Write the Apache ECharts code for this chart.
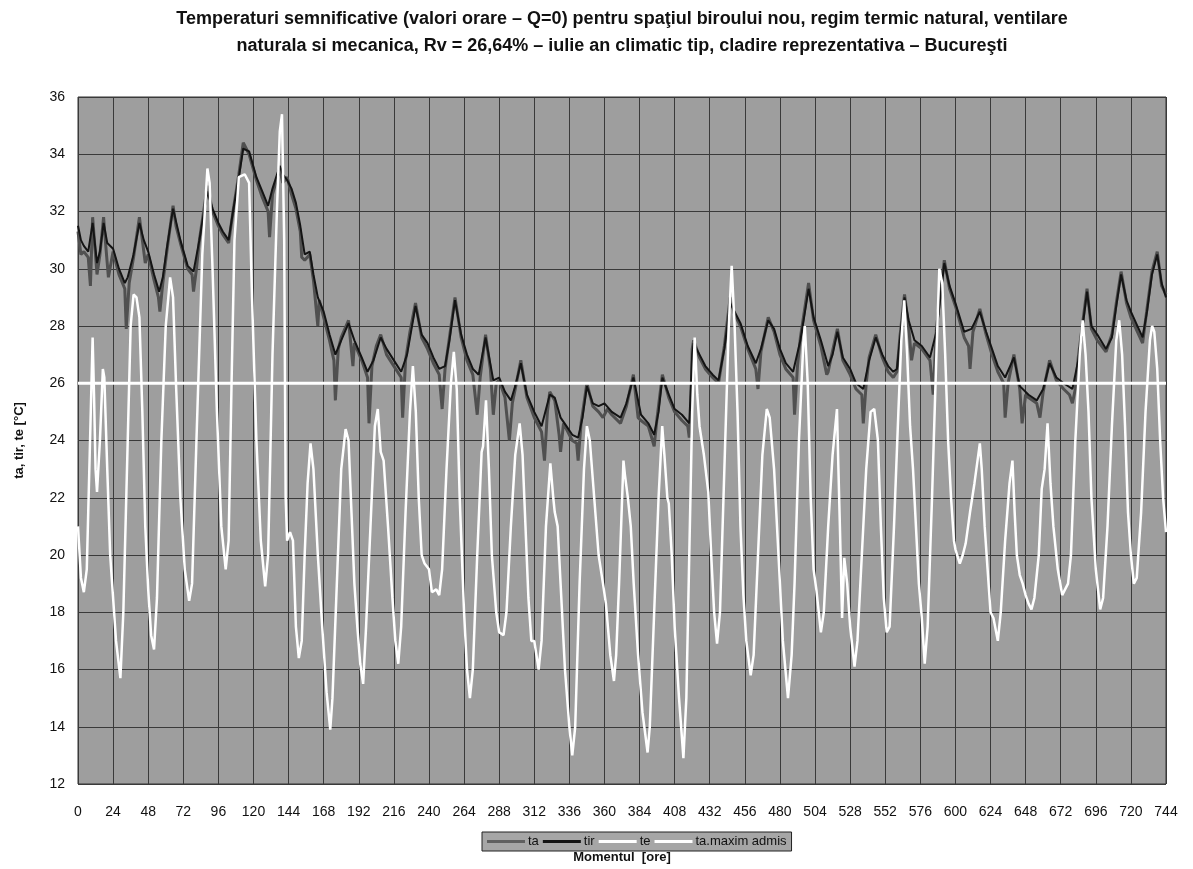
<!DOCTYPE html>
<html><head><meta charset="utf-8">
<script src="https://cdn.jsdelivr.net/npm/echarts@6/dist/echarts.min.js"></script>
<style>html,body{margin:0;padding:0;background:#fff}#c{width:1193px;height:869px}</style>
</head><body><div id="c"></div>
<script>
// ---- data (hour, °C) ----
const xTicks = {min: 0, max: 744, step: 24};
const yTicks = {min: 12, max: 36, step: 2};
const seriesNames = ['ta', 'tir', 'te', 'ta.maxim admis'];

const taData = [[0,31.3],[2,30.5],[4,30.6],[7,30.4],[8.5,29.4],[10,31.8],[13,29.8],[15,30.5],[17.5,31.8],[19,30.8],[20.8,29.7],[24,30.6],[28,29.8],[32,29.3],[33,27.9],[35,29.5],[38,30.4],[42,31.8],[44,31],[46,30.2],[48,30.5],[52,29.6],[55,29],[56,28.5],[58,29.5],[61,30.7],[65,32.2],[67,31.5],[70,30.9],[75,30],[78,29.8],[79,29.2],[81,30],[83,31],[88.5,32.9],[92,32],[96,31.5],[99,31.2],[103,30.9],[106,32],[110,33.3],[113,34.4],[117,34],[122,33.1],[126,32.5],[130,32],[131,31.1],[133,32.6],[138,33.5],[140,33],[143,33.2],[146,32.6],[149,32.1],[152,31.3],[153,30.4],[155,30.3],[158.5,30.5],[161,29.6],[164,28],[165,28.9],[168,28.3],[172,27.5],[175,26.8],[176,25.4],[178,27.2],[180,27.6],[185,28.2],[188,26.6],[189,27.4],[194,26.8],[198,26.2],[199,24.6],[201,26.6],[204,27.3],[207,27.7],[211,27],[216,26.6],[221,26.2],[222,24.8],[224,26.8],[227,27.8],[230.8,28.8],[235,27.6],[239,27.2],[243,26.7],[247,26.3],[249,25.1],[251,26.5],[254,27.6],[257.8,29],[262,27.6],[266,26.8],[270,26.3],[273,24.9],[275,26.2],[278.7,27.7],[282,26.5],[284,24.9],[286,26],[288,26.1],[292,25.5],[295,24],[297,25.3],[299,25.8],[302.8,26.8],[307,25.5],[312,24.8],[317,24.3],[319,23.3],[321,25],[322.6,25.7],[326,25.4],[329,24.2],[330,23.6],[332,24.6],[334,24.4],[338,24],[341,23.9],[342,23.3],[344,24.6],[348,26],[352,25.2],[356,25],[359,24.8],[362,25.1],[365,24.9],[371,24.6],[375,25.2],[379.8,26.3],[383,24.8],[385,24.7],[390,24.5],[394,23.8],[396,24.8],[399.6,26.3],[404,25.5],[408,25],[413,24.7],[417,24.5],[418,24.1],[419,25],[420,27.2],[421,27.5],[425,26.9],[429,26.5],[434,26.2],[438,26],[442,27.3],[446,29],[449,28.4],[453,28],[458,27.2],[463.5,26.5],[465,25.8],[467,27.1],[472,28.3],[476,27.8],[480,27],[484,26.5],[489,26.2],[490,24.9],[492,26.6],[494,27.6],[499.6,29.5],[503,28.2],[508,27.3],[512,26.3],[513,26.4],[515,26.9],[519.3,27.9],[523,26.8],[528,26.3],[532,25.8],[536,25.6],[537,24.6],[539,26],[541,26.9],[545.5,27.7],[550,26.9],[554,26.4],[557.5,26.2],[560,26.4],[562,27.6],[565.2,29.1],[568,28],[570,26.8],[572,27.4],[577,27.2],[582.6,26.8],[584.8,25.6],[587,27.9],[592.4,30.3],[596,29.3],[600,28.7],[606,27.6],[609,27.3],[610,26.5],[612,27.8],[616.7,28.6],[621,27.7],[625,27],[629,26.4],[633,26],[634,24.8],[636,26],[640,27],[644,25.8],[645.6,24.6],[648,25.6],[650,25.5],[655.6,25.3],[657.8,24.8],[660,25.7],[664.4,26.8],[669,26.1],[674,25.8],[678,25.6],[680,25.3],[682,25.8],[684,26.9],[687,28.1],[690,29.3],[693,27.9],[697,27.5],[703,27.1],[707,27.7],[710,28.8],[713.3,29.9],[717,28.8],[720,28.3],[724.4,27.8],[728,27.4],[731,28.6],[734.4,29.9],[738,30.6],[741,29.4],[744,29.1]];

const tirData = [[0,31.5],[2,31],[4,30.8],[7,30.6],[10,31.6],[13,30.2],[15,30.6],[17.5,31.6],[20,30.9],[24,30.7],[28,30],[32,29.5],[34,29.7],[38,30.5],[42,31.6],[45,31],[48,30.6],[52,29.8],[55.5,29.2],[58,29.7],[61,30.8],[65,32.1],[70,31],[75,30.1],[79,29.9],[83,31],[88.5,32.7],[92,32.1],[96,31.6],[99,31.3],[103,31],[106,32],[110,33.2],[113,34.2],[117,34.1],[122,33.2],[126,32.7],[130,32.2],[133,32.8],[138,33.6],[140,33.3],[143,33.1],[146,32.8],[149,32.3],[152,31.5],[155,30.5],[158.5,30.6],[161,29.8],[164,29],[168,28.5],[172,27.7],[176,27],[180,27.5],[185,28.1],[189,27.5],[194,26.9],[198,26.4],[202,26.8],[207,27.6],[211,27.2],[216,26.8],[221,26.4],[225,27],[230.8,28.7],[235,27.7],[239,27.4],[243,26.9],[247,26.5],[251,26.6],[254,27.5],[257.8,28.9],[262,27.7],[266,27],[270,26.5],[274,26.3],[278.7,27.6],[284,26.1],[288,26.2],[292,25.7],[296,25.4],[299,25.9],[302.8,26.7],[307,25.6],[312,25],[317,24.5],[322.6,25.6],[326,25.5],[330,24.8],[334,24.5],[338,24.2],[342,24.1],[345,24.8],[348,25.9],[352,25.3],[356,25.2],[360,25.3],[365,25],[371,24.8],[375,25.3],[379.8,26.2],[385,24.9],[390,24.6],[394,24.2],[397,25],[399.6,26.2],[404,25.6],[408,25.1],[413,24.9],[418,24.6],[420,27],[421,27.4],[425,27],[429,26.6],[434,26.3],[438,26.1],[442,27.2],[446,28.8],[449,28.5],[453,28.1],[458,27.3],[463.5,26.7],[467,27.2],[472,28.2],[476,27.9],[480,27.2],[484,26.7],[489,26.4],[494,27.5],[499.6,29.3],[503,28.3],[508,27.5],[513,26.6],[516,27],[519.3,27.8],[523,26.9],[528,26.5],[532,26],[537,25.8],[541,26.8],[545.5,27.6],[550,27],[554,26.6],[557.5,26.4],[560,26.5],[562,27.5],[565.2,29],[568,28.2],[572,27.5],[577,27.3],[582.6,26.9],[587,27.8],[592.4,30.2],[596,29.4],[600,28.8],[606,27.8],[611,27.9],[616.7,28.5],[621,27.8],[625,27.2],[629,26.6],[634,26.2],[640,26.9],[644,25.9],[650,25.6],[655.6,25.4],[660,25.8],[664.4,26.7],[669,26.2],[674,26],[680,25.8],[684,26.8],[687,28],[690,29.2],[693,28],[697,27.7],[703,27.2],[707,27.6],[710,28.7],[713.3,29.8],[717,28.9],[720,28.5],[724.4,28],[728,27.6],[731,28.5],[734.4,29.8],[738,30.5],[741,29.5],[744,29]];

const teData = [[0,21],[2,19.2],[4,18.7],[6,19.5],[8,23.5],[10,27.6],[11,25.5],[12,23],[13,22.2],[15,24],[17,26.5],[18,26.2],[20,23],[22,20],[24,18.5],[26,17],[29,15.7],[31,18],[34,24],[36,28],[38,29.1],[40,29],[42,28.3],[44,25],[46,21],[48,18.8],[50,17.2],[52,16.7],[54,18.5],[57,24],[60,28],[63,29.7],[65,29],[67,26],[70,22],[73,19.5],[76,18.4],[78,19],[81,24],[85,30.5],[88.5,33.5],[90,33],[92,30],[95,25],[98,21],[101,19.5],[103,20.5],[105,26],[107,31],[110,33.2],[114,33.3],[117,33],[119,29],[122,24],[125,20.5],[128,18.9],[130,20],[133,27],[136,32],[138,34.8],[139.5,35.4],[141,31],[142,22],[143,20.5],[145,20.8],[147,20.5],[149,17.5],[151,16.4],[153,17],[155,20],[157,22.5],[159,23.9],[161,23],[164,20],[167,17.5],[170,15.2],[172.5,13.9],[174,15],[177,19],[180,23],[183,24.4],[185,24],[187,21.5],[189,19],[191,17.5],[193,16.2],[195,15.5],[197,17.5],[200,21],[203,24.5],[205,25.1],[207,23.6],[209,23.3],[212,21],[215,18.5],[217,17],[219,16.2],[221,17.5],[224,21.5],[227,25],[229,26.6],[231,25],[233,22],[235,20],[237,19.7],[240,19.5],[242,18.7],[245,18.8],[247,18.6],[249,19.5],[252,23],[255,26],[257,27.1],[259,25.8],[261,22],[264,18],[266,16],[268,15],[270,16],[273,20],[276,23.6],[277,23.8],[279,25.4],[281,23],[283,20],[286,18],[288,17.3],[291,17.2],[293,18],[296,21],[299,23.5],[302,24.6],[304,23.5],[306,21],[308,18.5],[310,17],[312,17],[315,16],[317,17],[320,21],[323,23.2],[325,22],[326,21.5],[328,21],[330,19],[333,16],[336,14],[338,13],[340,14],[343,19],[346,23],[348,24.5],[350,24],[353,22],[356,20],[359,19],[361,18.3],[364,16.5],[366.5,15.6],[368,16.5],[370,19],[373,23.3],[374,22.8],[376,22],[378,21],[380,19],[383,16.5],[386,14.5],[389.5,13.1],[391,14],[394,18],[397,22],[399.5,24.5],[401,23.5],[403,22],[404,21.8],[406,20],[408,17.5],[411,15],[414,12.9],[416,15],[418,20],[420,25],[421.7,27.6],[423.5,25.6],[425,24.5],[428,23.5],[431,22.2],[433,20],[435,18],[437,16.9],[439,18],[442,23],[445,28],[447,30.1],[449,28],[451,25],[453,21],[455,18.6],[457,17],[460,15.8],[462,16.5],[465,20],[468,23.5],[471,25.1],[473,24.8],[476,23],[479,20],[482,17],[485.5,15],[488,16.5],[490,19],[493,24],[496,27.4],[497,28],[499,26],[501,22],[503,19.5],[505,18.75],[508,17.3],[510,18],[513,21],[516,23.5],[519,25.1],[520,23],[521,21],[522.5,17.8],[524,19.9],[526,19],[528,17.5],[531,16.1],[533,17],[536,20],[539,23],[542,25],[544.5,25.1],[547,24],[549,21],[551,18.5],[553,17.3],[555,17.5],[558,21],[561,25],[563,27.5],[565,28.9],[567,27],[569,24.5],[571,23],[573,21],[575,19],[577,17.8],[579,16.2],[581,17.5],[584,22],[587,27],[589,30],[591,29.5],[593,27],[595,24],[597,22],[599,20.5],[600,20.2],[603,19.7],[605,20],[607,20.4],[610,21.5],[613,22.5],[616.7,23.9],[618,23],[620,21],[622,19.5],[624,18],[626,17.8],[629,17],[631,18],[634,20.5],[637,22.5],[639,23.3],[640.5,21.5],[642,20],[644,19.3],[646,19],[648,18.6],[650,18.3],[652,18.1],[654,18.5],[657,20],[659,22.3],[661,23],[663,24.6],[665,22.5],[667,21],[670,19.5],[673,18.6],[675,18.8],[677,19],[679,20],[682,24],[685,27],[687,28.2],[689,27],[691,25],[693,22],[696,19.5],[699,18.1],[701,18.5],[704,21],[707,24.5],[710,27.5],[712,28.2],[714,27],[716,24.5],[718,21.5],[720,20],[722,19],[724,19.2],[727,21.5],[730,25],[733,27.5],[734.5,28],[736,27.8],[738,26.5],[740,24],[742,22],[744,20.8]];

const taMaxAdmis = [[0,26],[744,26]];

const titleText = 'Temperaturi semnificative (valori orare – Q=0) pentru spaţiul biroului nou, regim termic natural, ventilare\nnaturala si mecanica, Rv = 26,64% – iulie an climatic tip, cladire reprezentativa – Bucureşti';
const yName = 'ta, tir, te [°C]';
const xName = 'Momentul  [ore]';

const chart = echarts.init(document.getElementById('c'), null, {renderer: 'canvas'});
const FONT = '"Liberation Sans", Arial, sans-serif';
chart.setOption({
  backgroundColor: '#ffffff',
  animation: false,
  title: {
    text: titleText, left: 617, top: 1, textAlign: 'center',
    textStyle: {fontFamily: FONT, fontWeight: 'bold', fontSize: 18, lineHeight: 27, color: '#111'}
  },
  grid: {left: 78, right: 27, top: 97, bottom: 80, show: true, backgroundColor: '#9e9e9e', borderColor: '#333', borderWidth: 1},
  legend: {
    data: seriesNames, left: 482, top: 832, padding: [3, 5], itemGap: 4, itemWidth: 38, itemHeight: 3,
    icon: 'rect',
    backgroundColor: '#a6a6a6', borderColor: '#222', borderWidth: 1,
    textStyle: {fontFamily: FONT, fontSize: 13, color: '#111', padding: [0, 0, 0, -2]}
  },
  xAxis: {
    type: 'value', min: xTicks.min, max: xTicks.max, interval: xTicks.step,
    name: xName, nameLocation: 'middle', nameGap: 67,
    nameTextStyle: {fontFamily: FONT, fontWeight: 'bold', fontSize: 13, color: '#111'},
    axisLine: {show: false}, axisTick: {show: false},
    axisLabel: {fontFamily: FONT, fontSize: 14, color: '#111', margin: 21},
    splitLine: {show: true, lineStyle: {color: '#3a3a3a', width: 1}}
  },
  yAxis: {
    type: 'value', min: yTicks.min, max: yTicks.max, interval: yTicks.step,
    name: yName, nameLocation: 'middle', nameGap: 52, nameRotate: 90,
    nameTextStyle: {fontFamily: FONT, fontWeight: 'bold', fontSize: 13, color: '#111'},
    axisLine: {show: false}, axisTick: {show: false},
    axisLabel: {fontFamily: FONT, fontSize: 14, color: '#111', margin: 13},
    splitLine: {show: true, lineStyle: {color: '#3a3a3a', width: 1}}
  },
  series: [
    {name: seriesNames[0], type: 'line', data: taData, symbol: 'none', lineStyle: {color: '#505050', width: 3}, itemStyle: {color: '#606060'}},
    {name: seriesNames[1], type: 'line', data: tirData, symbol: 'none', lineStyle: {color: '#141414', width: 2}, itemStyle: {color: '#141414'}},
    {name: seriesNames[2], type: 'line', data: teData, symbol: 'none', lineStyle: {color: '#ffffff', width: 2.5}, itemStyle: {color: '#ffffff'}},
    {name: seriesNames[3], type: 'line', data: taMaxAdmis, symbol: 'none', lineStyle: {color: '#ffffff', width: 3}, itemStyle: {color: '#ffffff'}}
  ]
});
</script></body></html>
